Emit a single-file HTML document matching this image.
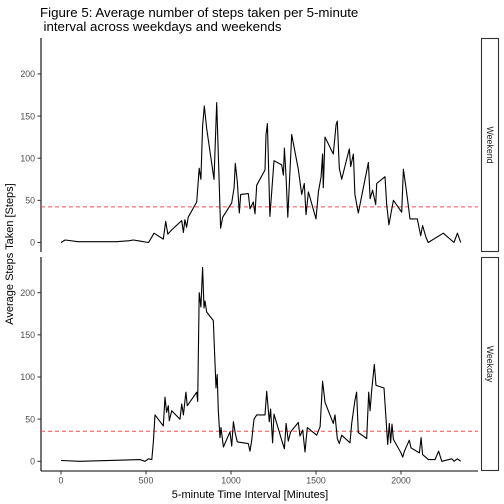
<!DOCTYPE html>
<html><head><meta charset="utf-8"><style>
html,body{margin:0;padding:0;background:#fff;}
svg{display:block;font-family:"Liberation Sans",Arial,sans-serif;}
</style></head><body>
<svg id="chart" width="504" height="504" viewBox="0 0 504 504">
<text x="40" y="17" font-size="13.3" fill="#000">Figure 5: Average number of steps taken per 5-minute</text>
<text x="43.5" y="31" font-size="13.3" fill="#000">interval across weekdays and weekends</text>
<text transform="translate(13,254) rotate(-90)" text-anchor="middle" font-size="11" fill="#000">Average Steps Taken [Steps]</text>
<text x="250" y="498" text-anchor="middle" font-size="11" fill="#000">5-minute Time Interval [Minutes]</text>
<g id="plot"></g>
</svg>
<script>
const panelNames = ["Weekend", "Weekday"];
const weekendX = [0,24,102,327,396,425,455,515,547,602,616,628,651,710,720,729,739,748,798,813,823,833,843,857,900,916,925,939,951,1004,1018,1025,1037,1049,1057,1102,1112,1131,1141,1151,1200,1206,1214,1229,1253,1298,1308,1314,1324,1334,1357,1396,1416,1431,1441,1455,1500,1514,1530,1539,1543,1553,1602,1618,1625,1637,1651,1696,1704,1720,1729,1749,1808,1818,1833,1851,1857,1906,1916,1929,1955,2004,2014,2029,2043,2053,2096,2116,2127,2147,2160,2249,2312,2332,2351];
const weekendY = [0,3,1,1,2,3,2,0,11,4,25,10,15,26,12,27,18,30,48,88,75,138,162,135,75,166,105,17,30,47,65,94,72,35,57,58,40,48,34,68,86,128,141,31,97,92,80,112,77,30,128,87,57,70,33,60,28,60,78,105,65,125,105,140,144,88,75,111,90,105,57,35,95,52,62,45,70,78,45,21,50,36,87,66,44,28,28,8,20,6,0,11,0,11,0];
const weekdayX = [0,112,465,494,514,534,543,553,602,612,621,631,637,651,700,710,720,735,743,798,804,813,823,833,841,847,857,896,912,919,925,935,941,955,994,1004,1014,1025,1037,1102,1112,1122,1135,1151,1200,1210,1225,1233,1245,1253,1298,1314,1324,1337,1351,1396,1406,1422,1435,1449,1504,1524,1539,1553,1602,1612,1625,1637,1651,1700,1710,1729,1739,1749,1798,1810,1818,1827,1843,1853,1900,1922,1931,1939,1947,1955,2000,2010,2020,2049,2059,2108,2118,2127,2161,2200,2221,2240,2299,2312,2332,2351];
const weekdayY = [1,0,2,0,3,2,22,55,42,76,58,66,48,60,50,68,55,82,66,82,71,200,183,230,182,190,177,167,87,103,60,28,40,17,35,18,47,33,23,21,12,25,50,55,55,83,47,62,22,56,25,15,45,24,35,46,30,37,11,40,31,41,95,70,45,55,27,21,31,22,45,72,82,34,27,82,60,83,115,90,87,20,45,22,44,26,10,5,12,25,16,10,28,8,2,2,12,0,3,0,3,0];
const meanValues = [42.2, 35.6];
const yTicks = [0,50,100,150,200];
const xTicks = [0,500,1000,1500,2000];

const NS = "http://www.w3.org/2000/svg";
const g = document.getElementById("plot");
function mk(tag, attrs, parent) {
  const e = document.createElementNS(NS, tag);
  for (const k in attrs) e.setAttribute(k, attrs[k]);
  (parent || g).appendChild(e);
  return e;
}
const xScale = v => 61 + v * 0.17;
const panels = [{top:38, bottom:252, zero:242.5, xs:weekendX, ys:weekendY}, {top:257, bottom:471, zero:461.3, xs:weekdayX, ys:weekdayY}];
panels.forEach((p, i) => {
  const yScale = v => p.zero - v * 0.843;
  const pg = mk("g", {});
  
  
  const ax = mk("line", {x1:41, x2:41, y1:p.top, y2:p.bottom, stroke:"#000", "stroke-width":1.1}, pg);
  
  
  yTicks.forEach(t => {
    const y = yScale(t);
    const tk = mk("line", {x1:37.5, x2:41, y1:y, y2:y, stroke:"#333", "stroke-width":1}, pg);
    
    
    const tl = mk("text", {x:35, y:y+3.2, "text-anchor":"end", "font-size":"8.8", fill:"#4d4d4d"}, pg);
    tl.textContent = t;
    
    
  });
  const mean = mk("line", {x1:41, x2:478, y1:yScale(meanValues[i]), y2:yScale(meanValues[i]), stroke:"#ff4d4d", "stroke-width":1, "stroke-dasharray":"4,3"}, pg);
  
  
  const pts = p.xs.map((x, j) => xScale(x).toFixed(1) + "," + yScale(p.ys[j]).toFixed(1)).join(" ");
  const ln = mk("polyline", {points:pts, fill:"none", stroke:"#000", "stroke-width":1.1, "stroke-linejoin":"round"}, pg);
  
  
  const st = mk("rect", {x:481.5, y:p.top+0.5, width:17, height:p.bottom-p.top-1, fill:"#fff", stroke:"#333", "stroke-width":1.1}, pg);
  
  
  const cy = (p.top + p.bottom) / 2;
  const stt = mk("text", {transform:"translate(487," + cy + ") rotate(90)", "text-anchor":"middle", "font-size":"8.8", fill:"#1a1a1a"}, pg);
  stt.textContent = panelNames[i];
  
  
});
const xa = mk("line", {x1:41, x2:478, y1:471, y2:471, stroke:"#000", "stroke-width":1.1});


xTicks.forEach(t => {
  const x = xScale(t);
  const tk = mk("line", {x1:x, x2:x, y1:471, y2:474.5, stroke:"#333", "stroke-width":1});
  
  
  const tl = mk("text", {x:x, y:483.5, "text-anchor":"middle", "font-size":"8.8", fill:"#4d4d4d"});
  tl.textContent = t;
  
  
});
</script>
</body></html>
